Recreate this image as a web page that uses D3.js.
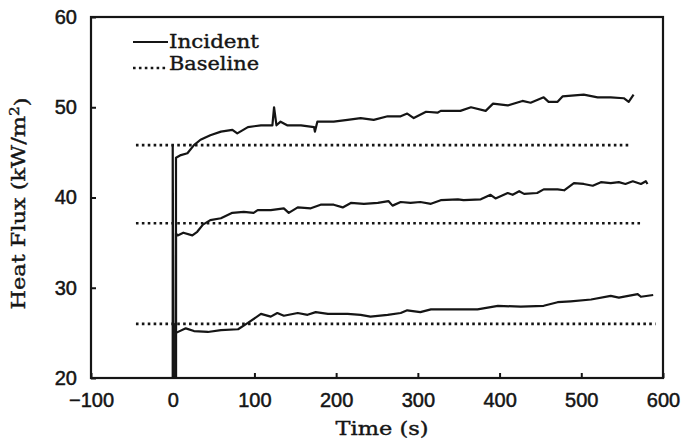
<!DOCTYPE html>
<html>
<head>
<meta charset="utf-8">
<script src="https://cdn.jsdelivr.net/npm/d3@7"></script>
<style>
  body { margin: 0; background: #fff; }
  svg { display: block; }
</style>
</head>
<body>
<div id="chart"></div>
<script>
// tick values
const xTicks = [-100, 0, 100, 200, 300, 400, 500, 600];
const yTicks = [20, 30, 40, 50, 60];

// incident heat flux traces (time s, kW/m2)
const upperTime = [0, 0, 1, 4, 4, 10, 18, 26, 34, 46, 59, 73, 79, 92, 108, 122, 124, 127, 132, 140, 157, 173, 174, 177, 197, 214, 230, 246, 263, 279, 287, 295, 310, 324, 328, 352, 365, 383, 392, 410, 428, 438, 454, 460, 471, 477, 503, 520, 536, 552, 558, 564];
const upperFlux = [20, 45.8, 20, 20, 44.4, 44.7, 44.9, 45.8, 46.4, 46.9, 47.3, 47.5, 47.1, 47.8, 48.0, 48.0, 50.0, 48.0, 48.4, 48.0, 48.0, 47.8, 47.3, 48.4, 48.4, 48.6, 48.8, 48.6, 49.0, 49.0, 49.3, 48.8, 49.5, 49.4, 49.6, 49.6, 50.0, 49.6, 50.4, 50.2, 50.7, 50.5, 51.1, 50.6, 50.6, 51.2, 51.4, 51.1, 51.1, 51.0, 50.6, 51.4];

const middleTime = [4, 4, 6, 13, 24, 30, 37, 46, 59, 73, 87, 99, 104, 120, 136, 142, 153, 169, 181, 197, 208, 218, 234, 251, 264, 269, 279, 291, 303, 316, 328, 349, 356, 377, 389, 395, 410, 416, 424, 430, 446, 454, 471, 479, 491, 503, 514, 524, 536, 546, 554, 563, 573, 579, 581];
const middleFlux = [20, 36.0, 35.8, 36.1, 35.8, 36.2, 37.0, 37.5, 37.7, 38.3, 38.4, 38.3, 38.6, 38.6, 38.8, 38.3, 38.9, 38.8, 39.2, 39.2, 38.9, 39.4, 39.3, 39.4, 39.6, 39.1, 39.5, 39.4, 39.5, 39.3, 39.7, 39.8, 39.7, 39.8, 40.3, 39.9, 40.5, 40.3, 40.7, 40.4, 40.5, 40.9, 40.9, 40.8, 41.6, 41.5, 41.3, 41.7, 41.6, 41.7, 41.5, 41.8, 41.5, 41.8, 41.5];

const lowerTime = [3, 3, 4, 16, 26, 43, 59, 80, 92, 108, 120, 128, 136, 153, 165, 175, 190, 214, 230, 242, 263, 279, 287, 303, 316, 340, 373, 398, 426, 454, 471, 487, 512, 536, 546, 569, 573, 588];
const lowerFlux = [20, 26, 25.0, 25.5, 25.2, 25.1, 25.3, 25.4, 26.1, 27.1, 26.8, 27.2, 26.9, 27.2, 27.0, 27.3, 27.1, 27.1, 27.0, 26.8, 27.0, 27.2, 27.5, 27.3, 27.6, 27.6, 27.6, 28.0, 27.9, 28.0, 28.4, 28.5, 28.7, 29.1, 28.9, 29.3, 29.0, 29.2];

// baselines: level, start and end time
const baselineLevel = [45.8, 37.15, 26.0];
const baselineStart = [-45, -45, -45];
const baselineEnd = [558, 573, 591];

const legendLabels = ["Incident", "Baseline"];

const width = 684;
const height = 443;
const margin = { top: 17, right: 21, bottom: 65, left: 91 };
const w = width - margin.left - margin.right;
const h = height - margin.top - margin.bottom;
const ink = "#151515";
const dots = "2.6,3.3";

const svg = d3.select("#chart")
    .append("svg")
    .attr("width", width)
    .attr("height", height);

const g = svg.append("g")
    .attr("transform", `translate(${margin.left},${margin.top})`);

const x = d3.scaleLinear().domain([-100, 600]).range([0, w]);
const y = d3.scaleLinear().domain([20, 60]).range([h, 0]);

svg.append("defs").append("clipPath").attr("id", "clip")
    .append("rect").attr("width", w).attr("height", h);

// baselines (dotted)
const baselines = baselineLevel.map((v, i) => [[baselineStart[i], v], [baselineEnd[i], v]]);
g.append("g").selectAll("line")
    .data(baselines)
    .enter()
    .append("line")
    .attr("x1", d => x(d[0][0]))
    .attr("x2", d => x(d[1][0]))
    .attr("y1", d => y(d[0][1]))
    .attr("y2", d => y(d[1][1]))
    .attr("stroke", ink)
    .attr("stroke-width", 2.6)
    .attr("stroke-dasharray", dots);

// incident traces
const series = [
    upperTime.map((t, i) => [t, upperFlux[i]]),
    middleTime.map((t, i) => [t, middleFlux[i]]),
    lowerTime.map((t, i) => [t, lowerFlux[i]])
];
const line = d3.line().x(d => x(d[0])).y(d => y(d[1]));
g.append("g").attr("clip-path", "url(#clip)")
    .selectAll("path")
    .data(series)
    .enter()
    .append("path")
    .attr("d", line)
    .attr("fill", "none")
    .attr("stroke", ink)
    .attr("stroke-width", 2.2)
    .attr("stroke-linejoin", "round");

// axes with inward ticks
const xAxis = g.append("g")
    .attr("transform", `translate(0,${h})`)
    .call(d3.axisBottom(x).tickValues(xTicks).tickSizeInner(-5).tickSizeOuter(0).tickPadding(14));
const yAxis = g.append("g")
    .call(d3.axisLeft(y).tickValues(yTicks).tickSizeInner(-5).tickSizeOuter(0).tickPadding(14));

[xAxis, yAxis].forEach(a => {
    a.select(".domain").remove();
    a.selectAll(".tick line").attr("stroke", ink).attr("stroke-width", 2);
    a.selectAll(".tick text")
        .attr("fill", ink)
        .attr("stroke", ink)
        .attr("stroke-width", 0.5)
        .style("font-family", "'Liberation Sans', Arial, sans-serif")
        .style("font-size", "20px");
});
xAxis.selectAll(".tick text").attr("dy", "0.75em");

// frame
g.append("rect")
    .attr("width", w)
    .attr("height", h)
    .attr("fill", "none")
    .attr("stroke", ink)
    .attr("stroke-width", 2.2);

// axis titles
const titleFont = "'DejaVu Serif', 'Liberation Serif', serif";
svg.append("text")
    .attr("x", margin.left + w / 2 + 5)
    .attr("y", 435)
    .attr("text-anchor", "middle")
    .attr("fill", ink)
    .attr("stroke", ink)
    .attr("stroke-width", 0.4)
    .attr("textLength", 93)
    .attr("lengthAdjust", "spacingAndGlyphs")
    .style("font-family", titleFont)
    .style("font-size", "19px")
    .text("Time (s)");

const yTitle = svg.append("text")
    .attr("transform", `translate(25,${margin.top + h / 2 + 6}) rotate(-90)`)
    .attr("text-anchor", "middle")
    .attr("fill", ink)
    .attr("stroke", ink)
    .attr("stroke-width", 0.4)
    .attr("textLength", 212)
    .attr("lengthAdjust", "spacingAndGlyphs")
    .style("font-family", titleFont)
    .style("font-size", "19px");
yTitle.append("tspan").text("Heat Flux (kW/m");
yTitle.append("tspan").attr("dy", "-0.45em").style("font-size", "13px").text("2");
yTitle.append("tspan").attr("dy", "0.45em").text(")");

// legend
const legend = g.append("g").attr("transform", "translate(42,25)");
legend.selectAll("line")
    .data(legendLabels)
    .enter()
    .append("line")
    .attr("x1", 0)
    .attr("x2", 35)
    .attr("y1", (d, i) => i === 1 ? 26 : 0)
    .attr("y2", (d, i) => i === 1 ? 26 : 0)
    .attr("stroke", ink)
    .attr("stroke-width", (d, i) => i === 1 ? 2.6 : 2)
    .attr("stroke-dasharray", (d, i) => i === 1 ? dots : null);
legend.selectAll("text")
    .data(legendLabels)
    .enter()
    .append("text")
    .attr("x", 36)
    .attr("y", (d, i) => 6 + i * 22)
    .attr("fill", ink)
    .attr("stroke", ink)
    .attr("stroke-width", 0.4)
    .attr("textLength", 90)
    .attr("lengthAdjust", "spacingAndGlyphs")
    .style("font-family", titleFont)
    .style("font-size", "19px")
    .text(d => d);
</script>
</body>
</html>
